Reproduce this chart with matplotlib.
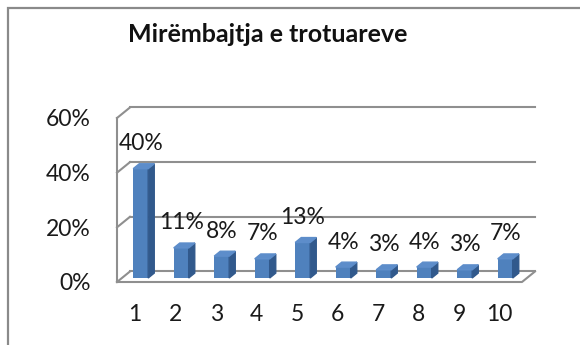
import matplotlib.pyplot as plt
from matplotlib.patches import Polygon, Rectangle

plt.rcParams['font.family'] = ['Lato', 'DejaVu Sans']

# survey answers (1..10) and share of responses in percent
categories = [1, 2, 3, 4, 5, 6, 7, 8, 9, 10]
shares = [40, 11, 8, 7, 13, 4, 3, 4, 3, 7]
y_ticks = [0, 20, 40, 60]
title = 'Mirëmbajtja e trotuareve'

grid_col = '#8f8f8f'
front_col = '#4f81bd'
side_col = '#31598c'
top_col = '#5d8dca'
text_col = '#1a1a1a'

fig = plt.figure(figsize=(5.8, 3.45), dpi=100)

# chart frame
fig.patches.append(Rectangle((8 / 580, -0.2), 1.2, 1.2 - 8 / 345,
                             transform=fig.transFigure, fill=False,
                             edgecolor='#8a8a8a', lw=1.6))

fig.text(268 / 580, 1 - 34 / 345, title, ha='center', va='center',
         fontsize=18, fontweight='bold', color='#111111')

ax = fig.add_axes([117 / 580, 63 / 345, 405 / 580, 164 / 345])
x0, x1 = 0.55, 10.55
ax.set_xlim(x0, x1)
ax.set_ylim(0, 60)
ax.set_facecolor('none')
for s in ax.spines.values():
    s.set_visible(False)

# depth of the walls and of the bars (x units, y percent)
wdx, wdy = 0.32, 3.85
sdx, sdy = 0.15, 1.8
shift, base, width = 0.135, 1.46, 0.37

# back wall gridlines with the left wall diagonals
for v in y_ticks:
    ax.plot([x0 + wdx, x1 + wdx], [v + wdy, v + wdy], color=grid_col,
            lw=1.5, clip_on=False, zorder=1)
    ax.plot([x0, x0 + wdx], [v, v + wdy], color=grid_col, lw=1.5,
            clip_on=False, zorder=1)
ax.plot([x0, x0], [0, y_ticks[-1]], color=grid_col, lw=1.5, clip_on=False, zorder=1)
ax.plot([x0, x1, x1 + wdx], [0, 0, wdy], color=grid_col, lw=1.5,
        clip_on=False, zorder=1)

xb = [c + shift for c in categories]
bars = ax.bar(xb, shares, width=width, bottom=base, color=front_col,
              zorder=3, clip_on=False)
for b, v in zip(bars, shares):
    xl = b.get_x()
    xr = xl + b.get_width()
    yt = base + v
    ax.add_patch(Polygon([(xr, base), (xr + sdx, base + sdy),
                          (xr + sdx, yt + sdy), (xr, yt)],
                         closed=True, color=side_col, zorder=3, clip_on=False))
    ax.add_patch(Polygon([(xl, yt), (xl + sdx, yt + sdy),
                          (xr + sdx, yt + sdy), (xr, yt)],
                         closed=True, color=top_col, zorder=3, clip_on=False))
    ax.annotate(f'{v}%', (b.get_x() + width / 2, yt), xytext=(0, 18),
                textcoords='offset points', ha='center', va='center',
                fontsize=16.5, color=text_col, zorder=4)

ax.set_xticks(categories)
ax.set_xticklabels([str(c) for c in categories], fontsize=16.5, color=text_col)
ax.set_yticks(y_ticks)
ax.set_yticklabels([f'{v}%' for v in y_ticks], fontsize=16.5, color=text_col)
ax.tick_params(axis='x', length=0, pad=16)
ax.tick_params(axis='y', length=0, pad=19)

fig.savefig('out.png', dpi=100)
